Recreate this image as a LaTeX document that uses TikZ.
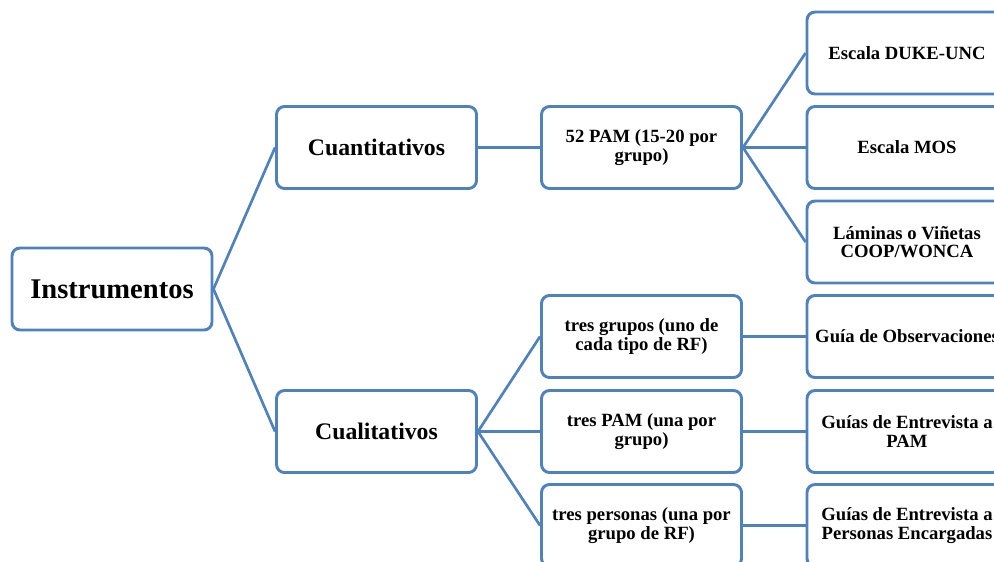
\documentclass[tikz,border=0pt]{standalone}
\usepackage{fontspec}
\setmainfont{Liberation Serif}
\usetikzlibrary{positioning}
\definecolor{boxblue}{RGB}{79,129,189}

\tikzset{
  caja/.style={draw=boxblue, line width=2.2pt, rounded corners=6pt, fill=white,
    minimum width=150pt, minimum height=61.5pt, align=center, inner sep=2pt,
    font=\bfseries\fontsize{14}{13.8}\selectfont},
  cajagrande/.style={caja, font=\bfseries\fontsize{17.8}{20}\selectfont},
  rama/.style={draw=boxblue, line width=2pt},
}

\begin{document}
\begin{tikzpicture}[x=0.75pt,y=-0.75pt]
\clip (0,0) rectangle (994,561);
\useasboundingbox (0,0) rectangle (994,561);

%---------------------------------------
% Raiz y tipos
%---------------------------------------
\node[caja, font=\bfseries\fontsize{21.4}{24}\selectfont] (instr) at (112,289) {Instrumentos};
\node[cajagrande] (cuanti) at (376.5,147.5) {Cuantitativos};
\node[cajagrande] (cuali)  at (376.5,431.5) {Cualitativos};

%---------------------------------------
% Muestras
%---------------------------------------
\node[caja] (pam52)    at (641.5,147.5) {52 PAM (15-20 por\\grupo)};
\node[caja] (grupos)   at (641.5,336.5) {tres grupos (uno de\\cada tipo de RF)};
\node[caja] (trespam)  at (641.5,431.5) {tres PAM (una por\\grupo)};
\node[caja] (personas) at (641.5,525.5) {tres personas (una por\\grupo de RF)};

%---------------------------------------
% Instrumentos concretos
%---------------------------------------
\node[caja] (duke)    at (907,53)    {Escala DUKE-UNC};
\node[caja] (mos)     at (907,147.5) {Escala MOS};
\node[caja] (laminas) at (907,242)   {Láminas o Viñetas\\COOP/WONCA};
\node[caja] (observ)  at (907,336.5) {Guía de Observaciones};
\node[caja] (entpam)  at (907,431.5) {Guías de Entrevista a\\PAM};
\node[caja] (entpers) at (907,525.5) {Guías de Entrevista a\\Personas Encargadas};

% Ramas
\draw[rama] (instr.east) -- (cuanti.west);
\draw[rama] (instr.east) -- (cuali.west);
\draw[rama] (cuanti.east) -- (pam52.west);
\foreach \hijo in {duke,mos,laminas}
  \draw[rama] (pam52.east) -- (\hijo.west);
\foreach \hijo in {grupos,trespam,personas}
  \draw[rama] (cuali.east) -- (\hijo.west);
\draw[rama] (grupos.east) -- (observ.west);
\draw[rama] (trespam.east) -- (entpam.west);
\draw[rama] (personas.east) -- (entpers.west);

\end{tikzpicture}
\end{document}
